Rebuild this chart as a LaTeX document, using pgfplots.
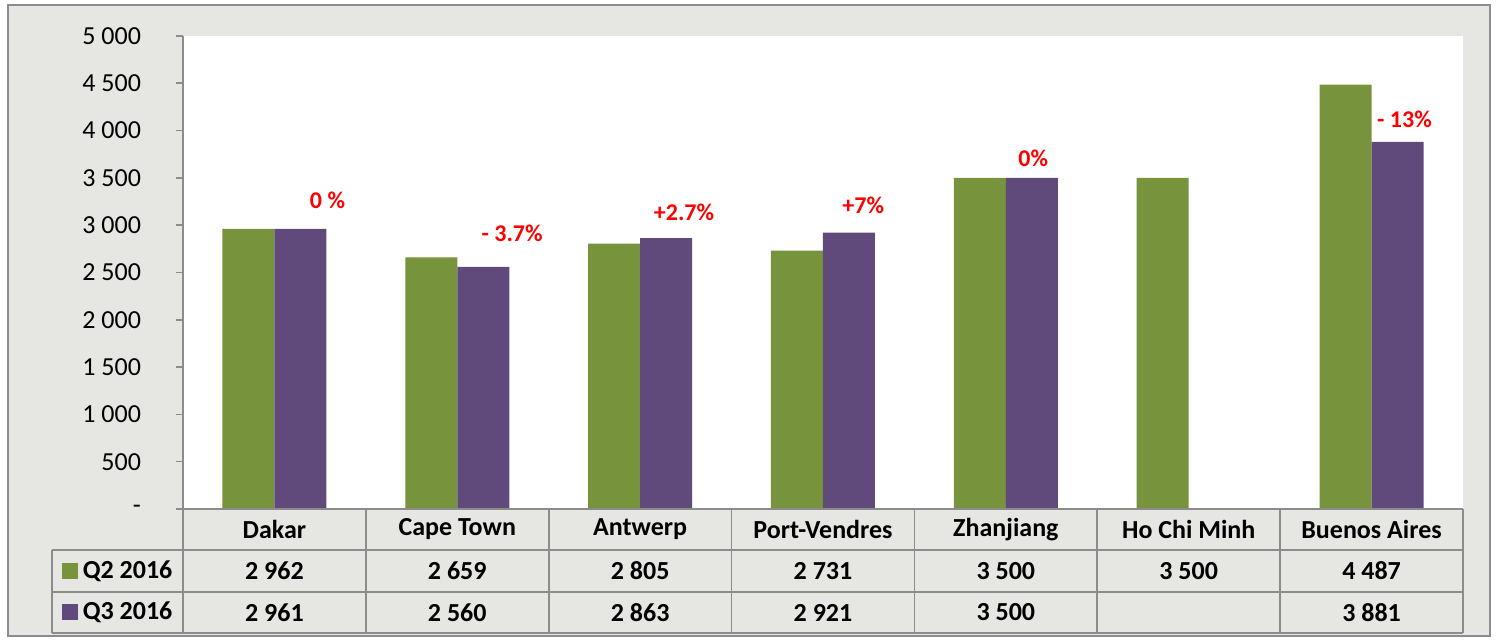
\documentclass[border=0pt]{standalone}
\usepackage{pgfplots}
\pgfplotsset{compat=1.18}
\usepackage{pgfplotstable}
\usepackage{fontspec}
\setmainfont{Carlito}

\definecolor{qgreen}{HTML}{77933C}
\definecolor{qpurple}{HTML}{604A7B}
\definecolor{bggray}{HTML}{E6E6E3}
\definecolor{linegray}{HTML}{8C8C8C}
\definecolor{lblred}{HTML}{FF0000}

% x: category index, q2 / q3: price per port
\pgfplotstableread{
x q2   q3
0 2962 2961
1 2659 2560
2 2805 2863
3 2731 2921
4 3500 3500
5 3500 nan
6 4487 3881
}\ports

\begin{document}
\begin{tikzpicture}
% canvas in reference pixels (y counted from the bottom)
\begin{scope}[x=0.5pt,y=0.5pt]
  \path[fill=white] (0,0) rectangle (1496,641);
  \path[fill=bggray, draw=linegray, line width=0.8pt] (8,5) rectangle (1490,636);
\end{scope}

\begin{axis}[
    at={(91.5pt,66pt)}, anchor=south west,
    scale only axis,
    width=640pt, height=236.5pt,
    ybar=0pt, bar width=26pt,
    xmin=-0.5, xmax=6.5,
    ymin=0, ymax=5000,
    xtick=\empty,
    ytick={0,500,...,5000},
    yticklabels={-,500,1 000,1 500,2 000,2 500,3 000,3 500,4 000,4 500,5 000},
    yticklabel style={font=\fontsize{13}{15}\selectfont, xshift=-14pt},
    tick align=outside,
    major tick length=3.5pt,
    tick style={linegray, line width=0.8pt},
    axis x line*=bottom, axis y line*=left,
    axis line style={linegray, line width=0.8pt, -},
    axis background/.style={fill=white},
    clip=false,
]
\addplot[fill=qgreen, draw=none] table[x=x, y=q2] {\ports};
\addplot[fill=qpurple, draw=none] table[x=x, y=q3] {\ports};

\begin{scope}[font=\fontsize{12}{14}\selectfont\bfseries, text=lblred]
\node at (axis cs:0.29,3266) {0 \%};
\node at (axis cs:1.30,2918) {- 3.7\%};
\node at (axis cs:2.24,3140) {+2.7\%};
\node at (axis cs:3.22,3214) {+7\%};
\node at (axis cs:4.15,3710) {0\%};
\node at (axis cs:6.18,4123) {- 13\%};
\end{scope}
\end{axis}

% data table under the axis
\begin{scope}[x=0.5pt,y=0.5pt, line width=0.8pt, draw=linegray]
  \def\cw{182.857}
  \draw[linegray] (52,91) -- (1463,91);
  \draw[linegray] (52,49) -- (1463,49);
  \draw[linegray] (52,8) -- (1463,8);
  \draw[linegray] (52,8) -- (52,91);
  \draw[linegray] (183,132) -- (1463,132);
  \foreach \k in {0,...,7} {
    \draw[linegray] ({183+\k*\cw},8) -- ({183+\k*\cw},132);
  }
  \begin{scope}[font=\fontsize{13}{15}\selectfont\bfseries]
  \foreach \k/\name/\a/\b in {0/Dakar/2 962/2 961, 1/Cape Town/2 659/2 560,
      2/Antwerp/2 805/2 863, 3/Port-Vendres/2 731/2 921, 4/Zhanjiang/3 500/3 500,
      5/Ho Chi Minh/3 500/, 6/Buenos Aires/4 487/3 881} {
    \node at ({183+(\k+0.5)*\cw},111.5) {\name};
    \node at ({183+(\k+0.5)*\cw},70) {\a};
    \node at ({183+(\k+0.5)*\cw},28.5) {\b};
  }
  \fill[qgreen] (62,62) rectangle (78,78);
  \fill[qpurple] (62,20.5) rectangle (78,36.5);
  \node[anchor=west, inner sep=0pt] at (82,70) {Q2 2016};
  \node[anchor=west, inner sep=0pt] at (82,28.5) {Q3 2016};
  \end{scope}
\end{scope}
\end{tikzpicture}
\end{document}
